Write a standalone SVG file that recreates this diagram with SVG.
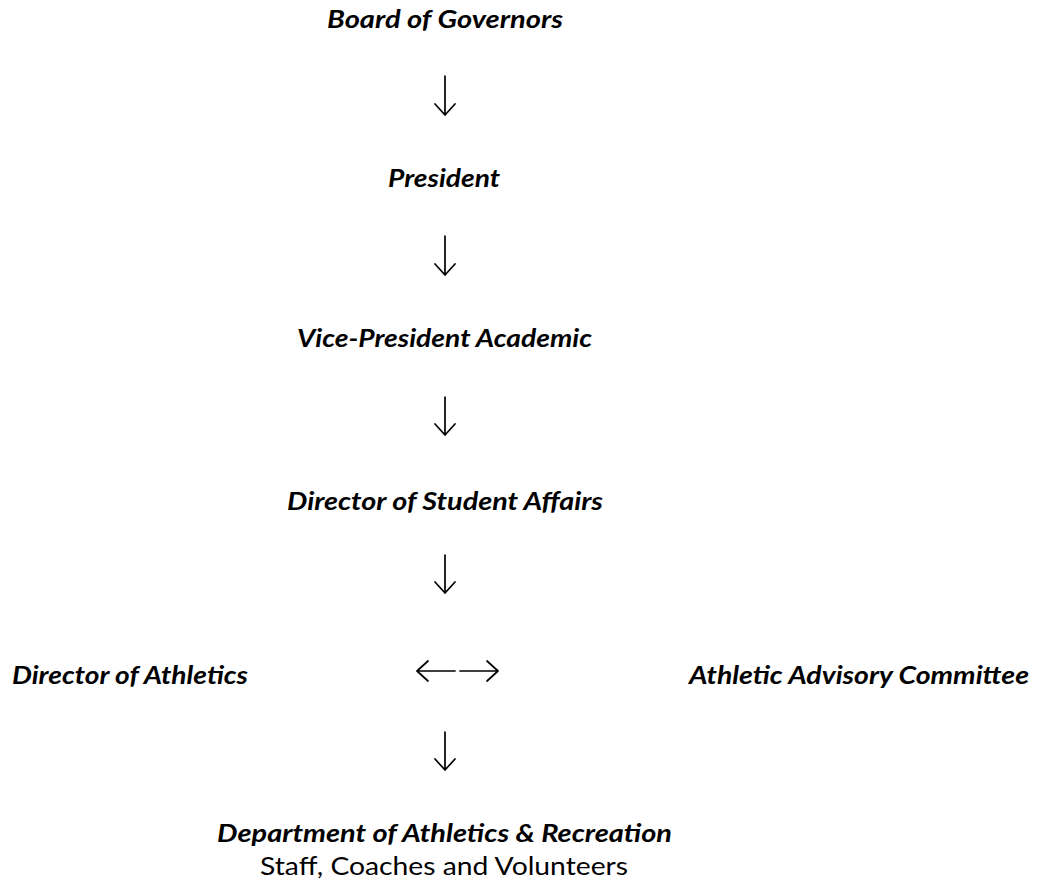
<svg xmlns="http://www.w3.org/2000/svg" width="1044" height="886" viewBox="0 0 1044 886">
<style>
.t{font-family:Lato,"Open Sans","Liberation Sans",sans-serif;font-size:25px;font-weight:bold;font-style:italic;fill:#000}
.r{font-family:Lato,"Open Sans","Liberation Sans",sans-serif;font-size:25px;font-weight:normal;fill:#000}
.c{fill:none;stroke:#000;stroke-width:1.7;stroke-linecap:round;stroke-linejoin:round}
</style>
<rect width="1044" height="886" fill="#fff"/>
<g id="board"><text class="t" x="327" y="28" textLength="236" lengthAdjust="spacingAndGlyphs">Board of Governors</text></g>
<g id="president"><text class="t" x="388" y="187" textLength="112" lengthAdjust="spacingAndGlyphs">President</text></g>
<g id="vp-academic"><text class="t" x="297" y="347" textLength="295" lengthAdjust="spacingAndGlyphs">Vice-President Academic</text></g>
<g id="director-student-affairs"><text class="t" x="287" y="510" textLength="316" lengthAdjust="spacingAndGlyphs">Director of Student Affairs</text></g>
<g id="director-athletics"><text class="t" x="12" y="684" textLength="236" lengthAdjust="spacingAndGlyphs">Director of Athletics</text></g>
<g id="advisory-committee"><text class="t" x="689" y="684" textLength="340" lengthAdjust="spacingAndGlyphs">Athletic Advisory Committee</text></g>
<g id="department">
<text class="t" x="217" y="842" textLength="455" lengthAdjust="spacingAndGlyphs">Department of Athletics &amp; Recreation</text>
<text class="r" x="260" y="875" textLength="368" lengthAdjust="spacingAndGlyphs">Staff, Coaches and Volunteers</text>
</g>
<g id="connectors">
<path class="c" d="M445 76V115M435 104L445 115L455 104"/>
<path class="c" d="M445 236V275M435 264L445 275L455 264"/>
<path class="c" d="M445 397V435M435 424L445 435L455 424"/>
<path class="c" d="M445 555V593M435 582L445 593L455 582"/>
<path class="c" d="M455 671H417M428 661L417 671L428 681"/>
<path class="c" d="M460 671H498M487 661L498 671L487 681"/>
<path class="c" d="M445 732V770M435 759L445 770L455 759"/>
</g>
</svg>
